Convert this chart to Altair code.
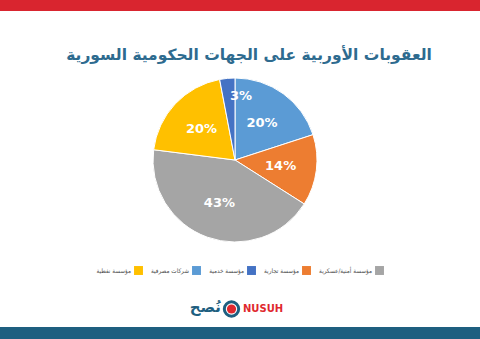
import altair as alt
import pandas as pd

# data
categories = ["شركات مصرفية", "مؤسسة تجارية", "مؤسسة أمنية/عسكرية", "مؤسسة نفطية", "مؤسسة خدمية"]
values = [20, 14, 43, 20, 3]
colors = ["#5b9bd5", "#ed7d31", "#a5a5a5", "#ffc000", "#4472c4"]
legend_order = ["مؤسسة نفطية", "شركات مصرفية", "مؤسسة خدمية", "مؤسسة تجارية", "مؤسسة أمنية/عسكرية"]
title_text = "العقوبات الأوربية على الجهات الحكومية السورية"

df = pd.DataFrame({
    "cat": categories,
    "val": values,
    "ord": list(range(len(categories))),
    "label": [f"{v}%" for v in values],
})
color_map = dict(zip(categories, colors))

W, H = 480, 339
CX, CY, R = 235, 160, 82

base = alt.Chart(df)

pie = base.mark_arc(outerRadius=R, stroke="white", strokeWidth=1).encode(
    theta=alt.Theta("val:Q", stack=True),
    order=alt.Order("ord:Q"),
    color=alt.Color(
        "cat:N",
        scale=alt.Scale(domain=legend_order, range=[color_map[c] for c in legend_order]),
        legend=alt.Legend(
            title=None,
            orient="none",
            legendX=134,
            legendY=266,
            direction="horizontal",
            gridAlign="none",
            symbolType="square",
            symbolSize=80,
            symbolStrokeWidth=0,
            labelAlign="right",
            labelOffset={"expr": "-12"},
            labelFont="DejaVu Sans Condensed",
            labelFontSize=6.3,
            labelColor="#505050",
            columnPadding=8,
            labelLimit=200,
        ),
    ),
    x=alt.value(CX),
    y=alt.value(CY),
)

labels = base.mark_text(
    color="white", font="DejaVu Sans", fontWeight="bold", fontSize=13
).transform_calculate(
    lr="datum.val < 5 ? 64 : 46"
).encode(
    theta=alt.Theta("val:Q", stack=True),
    radius=alt.Radius("lr:Q", scale=None),
    order=alt.Order("ord:Q"),
    text="label:N",
    x=alt.value(CX),
    y=alt.value(CY),
)

top_band = alt.Chart(pd.DataFrame({"a": [0]})).mark_rect(color="#d9252f").encode(
    x=alt.value(0), x2=alt.value(W), y=alt.value(0), y2=alt.value(11)
)
bottom_band = alt.Chart(pd.DataFrame({"a": [0]})).mark_rect(color="#1e5f80").encode(
    x=alt.value(0), x2=alt.value(W), y=alt.value(327), y2=alt.value(H)
)

title = alt.Chart(pd.DataFrame({"t": [title_text]})).mark_text(
    font="DejaVu Sans", fontWeight="bold", fontSize=15.5, color="#2e6b8f", align="center", baseline="middle"
).encode(text="t:N", x=alt.value(249), y=alt.value(55))

# logo
one = pd.DataFrame({"a": [0]})
ring = alt.Chart(one).mark_point(
    filled=True, shape="circle", size=300, color="#1e5f80", opacity=1
).encode(x=alt.value(231.5), y=alt.value(309))
gap = alt.Chart(one).mark_point(
    filled=True, shape="circle", size=130, color="white", opacity=1
).encode(x=alt.value(231.5), y=alt.value(309))
dot = alt.Chart(one).mark_point(
    filled=True, shape="circle", size=85, color="#e0282e", opacity=1
).encode(x=alt.value(231.5), y=alt.value(309))
nusuh = alt.Chart(pd.DataFrame({"t": ["NUSUH"]})).mark_text(
    font="DejaVu Sans", fontWeight="bold", fontSize=10, color="#e0282e", align="left", baseline="middle"
).encode(text="t:N", x=alt.value(243), y=alt.value(309))
nusuh_ar = alt.Chart(pd.DataFrame({"t": ["نُصح"]})).mark_text(
    font="DejaVu Sans", fontWeight="bold", fontSize=15, color="#1e5f80", align="right", baseline="middle"
).encode(text="t:N", x=alt.value(221), y=alt.value(307))

chart = alt.layer(
    top_band, bottom_band, title, pie, labels, ring, gap, dot, nusuh, nusuh_ar
).properties(
    width=W, height=H, padding=0, autosize=alt.AutoSizeParams(type="none"), background="white"
).configure_view(stroke=None)

chart.save("out.html", embed_options={"renderer": "svg", "actions": False})
